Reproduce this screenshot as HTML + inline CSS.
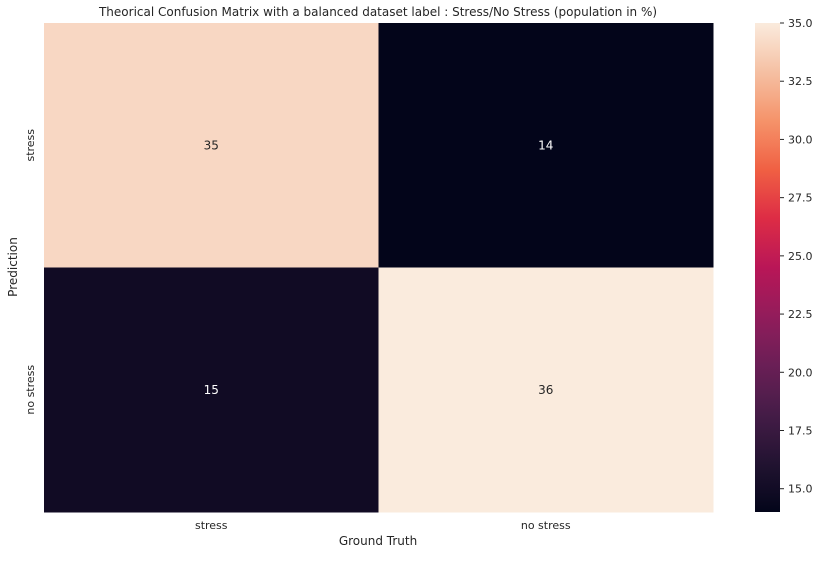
<!DOCTYPE html>
<html><head><meta charset="utf-8"><style>
body{margin:0;background:#fff;font-family:"Liberation Sans","DejaVu Sans",sans-serif;}
svg text{fill:#262626;font-family:"DejaVu Sans","Liberation Sans",sans-serif;}
</style></head><body>
<svg id="chart" width="820" height="556" xmlns="http://www.w3.org/2000/svg">
<text x="378" y="16" font-size="12" text-anchor="middle">Theorical Confusion Matrix with a balanced dataset label : Stress/No Stress (population in %)</text>
<g id="cells"></g>
<defs><linearGradient id="cbgrad" x1="0" y1="1" x2="0" y2="0"></linearGradient></defs>
<rect x="755" y="23" width="25" height="489" fill="url(#cbgrad)"/>
<g id="cbticks"></g>
<text x="378" y="545" font-size="12" text-anchor="middle">Ground Truth</text>
<text transform="translate(17,267) rotate(-90)" font-size="12" text-anchor="middle">Prediction</text>
</svg>
<script>
const rowLabels = ["stress", "no stress"];
const colLabels = ["stress", "no stress"];
const values = [[35, 14], [15, 36]];
const cbTicks = [15.0, 17.5, 20.0, 22.5, 25.0, 27.5, 30.0, 32.5, 35.0];
const vmin = 14, vmax = 36, cbMax = 35;

const stops = ["#03051a","#221331","#451c47","#6a1f56","#921c5b","#b91657","#dd2c45","#f06043","#f5936a","#f5c0a3","#faebdd"];
function hex(c){return [1,3,5].map(i=>parseInt(c.substr(i,2),16));}
function cmap(t){t=Math.max(0,Math.min(1,t));const p=t*(stops.length-1);const i=Math.min(Math.floor(p),stops.length-2);const f=p-i;const a=hex(stops[i]),b=hex(stops[i+1]);return "rgb("+a.map((v,k)=>Math.round(v+(b[k]-v)*f)).join(",")+")";}
const X0=44,X1=713,Y0=23,Y1=512;
const cw=(X1-X0)/colLabels.length, ch=(Y1-Y0)/rowLabels.length;
const ns="http://www.w3.org/2000/svg";
const svg=document.getElementById('chart');
const g=document.getElementById('cells');
values.forEach((row,r)=>row.forEach((v,c)=>{
  const rect=document.createElementNS(ns,'rect');
  
  
  rect.setAttribute('x',X0+c*cw);rect.setAttribute('y',Y0+r*ch);
  rect.setAttribute('width',cw+0.5);rect.setAttribute('height',ch+0.5);
  const t=(v-vmin)/(vmax-vmin);
  rect.setAttribute('fill',cmap(t));
  g.appendChild(rect);
  const tx=document.createElementNS(ns,'text');
  
  
  tx.setAttribute('x',X0+(c+0.5)*cw);tx.setAttribute('y',Y0+(r+0.5)*ch+4);
  tx.setAttribute('font-size','12');tx.setAttribute('text-anchor','middle');
  tx.setAttribute('style','fill:'+(t>0.6?'#262626':'#ffffff'));
  tx.textContent=v;g.appendChild(tx);
}));
colLabels.forEach((l,c)=>{
  const tx=document.createElementNS(ns,'text');
  
  
  tx.setAttribute('x',X0+(c+0.5)*cw);tx.setAttribute('y',Y1+17);
  tx.setAttribute('font-size','11');tx.setAttribute('text-anchor','middle');
  tx.textContent=l;svg.appendChild(tx);
});
rowLabels.forEach((l,r)=>{
  const tx=document.createElementNS(ns,'text');
  
  
  tx.setAttribute('transform','translate(34,'+(Y0+(r+0.5)*ch)+') rotate(-90)');
  tx.setAttribute('font-size','11');tx.setAttribute('text-anchor','middle');
  tx.textContent=l;svg.appendChild(tx);
});
const grad=document.getElementById('cbgrad');
for(let i=0;i<=40;i++){const f=i/40;
  const s=document.createElementNS(ns,'stop');s.setAttribute('offset',f);s.setAttribute('stop-color',cmap(f));grad.appendChild(s);}
const ct=document.getElementById('cbticks');
function cbY(v){return Y1-(v-vmin)/(cbMax-vmin)*(Y1-Y0);}
cbTicks.forEach(v=>{
  const y=cbY(v);
  const ln=document.createElementNS(ns,'line');
  
  
  ln.setAttribute('x1',780);ln.setAttribute('x2',784);ln.setAttribute('y1',y);ln.setAttribute('y2',y);
  ln.setAttribute('stroke','#262626');ct.appendChild(ln);
  const tx=document.createElementNS(ns,'text');
  
  
  tx.setAttribute('x',788);tx.setAttribute('y',y+4);tx.setAttribute('font-size','11');
  tx.textContent=v.toFixed(1);ct.appendChild(tx);
});
</script>
</body></html>
